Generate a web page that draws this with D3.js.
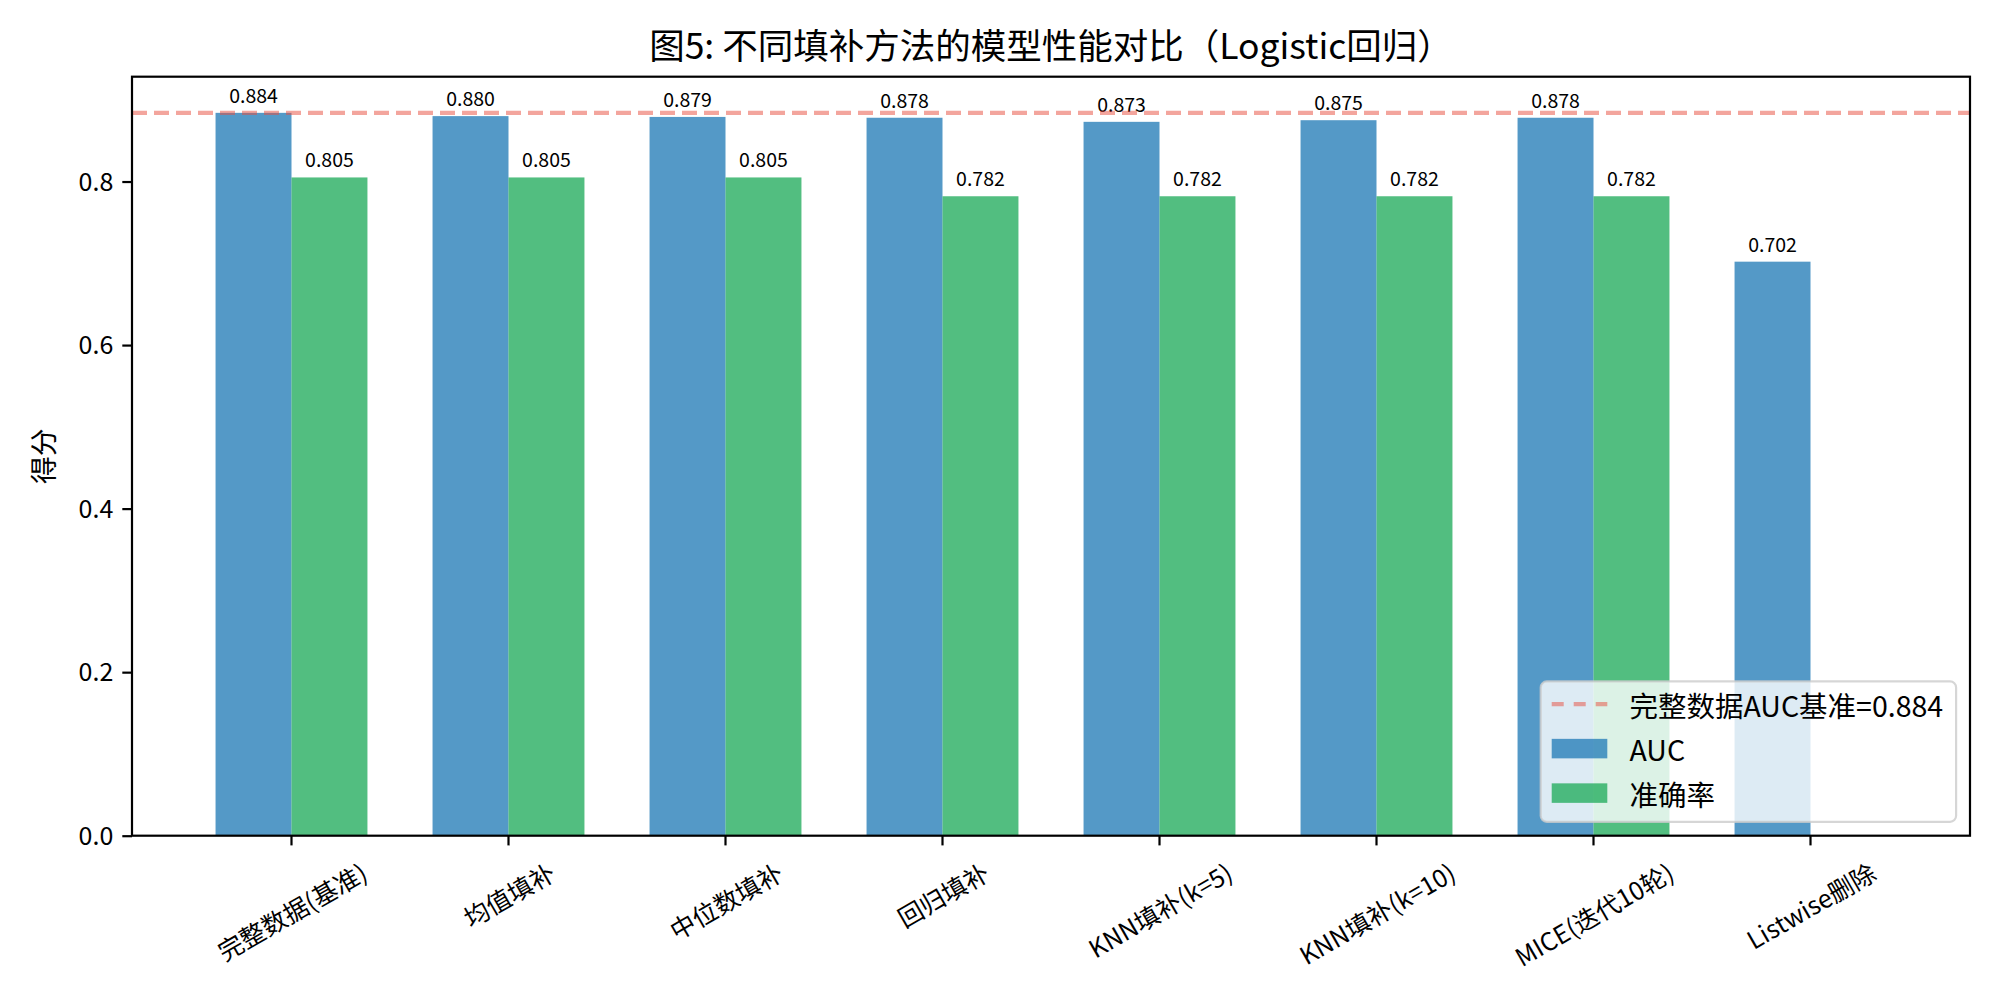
<!DOCTYPE html>
<html>
<head>
<meta charset="utf-8">
<script src="https://cdn.jsdelivr.net/npm/d3@7"></script>
<style>
  body { margin: 0; background: #fff; }
  text { font-family: "Noto Sans CJK SC", "Noto Sans", sans-serif; fill: #000; }
</style>
</head>
<body>
<div id="chart"></div>
<script>
// chart data
const methods = ["完整数据(基准)", "均值填补", "中位数填补", "回归填补", "KNN填补(k=5)", "KNN填补(k=10)", "MICE(迭代10轮)", "Listwise删除"];
const aucValues = [0.884, 0.880, 0.879, 0.878, 0.873, 0.875, 0.878, 0.702];
const accValues = [0.805, 0.805, 0.805, 0.782, 0.782, 0.782, 0.782, null];
const baselineAuc = 0.884;
const yTicks = [0.0, 0.2, 0.4, 0.6, 0.8];
const seriesNames = ["AUC", "准确率"];
const legendLine = "完整数据AUC基准=0.884";

const width = 2000, height = 1000;
const margin = {left: 132, right: 30, top: 76.7, bottom: 164.3};
const barW = 0.35;

const svg = d3.select("#chart").append("svg")
    .attr("width", width).attr("height", height)
    .attr("viewBox", `0 0 ${width} ${height}`);

// x domain the way matplotlib pads bars: 5% on each side
const lo = -barW, hi = methods.length - 1 + barW;
const pad = 0.05 * (hi - lo);
const x = d3.scaleLinear().domain([lo - pad, hi + pad]).range([margin.left, width - margin.right]);
const y = d3.scaleLinear().domain([0, d3.max(aucValues) * 1.05]).range([height - margin.bottom, margin.top]);

const blue = "#2980b9", green = "#27ae60";

// bars
const g = svg.append("g");
g.selectAll("rect.auc").data(aucValues).join("rect")
    .attr("class", "auc")
    .attr("x", (d, i) => x(i - barW))
    .attr("width", (d, i) => x(i) - x(i - barW))
    .attr("y", d => y(d))
    .attr("height", d => y(0) - y(d))
    .attr("fill", blue).attr("fill-opacity", 0.8);

const accData = accValues.map((v, i) => ({v, i})).filter(d => d.v != null);
g.selectAll("rect.acc").data(accData).join("rect")
    .attr("class", "acc")
    .attr("x", d => x(d.i))
    .attr("width", d => x(d.i + barW) - x(d.i))
    .attr("y", d => y(d.v))
    .attr("height", d => y(0) - y(d.v))
    .attr("fill", green).attr("fill-opacity", 0.8);

// value labels
g.selectAll("text.auclab").data(aucValues).join("text")
    .attr("x", (d, i) => x(i - barW / 2))
    .attr("y", d => y(d) - 10)
    .attr("text-anchor", "middle")
    .attr("font-size", 19.5)
    .text(d => d.toFixed(3));
g.selectAll("text.acclab").data(accData).join("text")
    .attr("x", d => x(d.i + barW / 2))
    .attr("y", d => y(d.v) - 10)
    .attr("text-anchor", "middle")
    .attr("font-size", 19.5)
    .text(d => d.v.toFixed(3));

// baseline dashed line
svg.append("line")
    .attr("x1", x.range()[0]).attr("x2", x.range()[1])
    .attr("y1", y(baselineAuc)).attr("y2", y(baselineAuc))
    .attr("stroke", "#e74c3c").attr("stroke-opacity", 0.5)
    .attr("stroke-width", 4.2).attr("stroke-dasharray", "15 7");

// axes frame
const x0 = x.range()[0], x1 = x.range()[1], yb = y(0), yt = y.range()[1];
svg.append("rect")
    .attr("x", x0).attr("y", yt).attr("width", x1 - x0).attr("height", yb - yt)
    .attr("fill", "none").attr("stroke", "#000").attr("stroke-width", 2.2);

// y ticks
const yAxis = svg.append("g").attr("transform", `translate(${x0},0)`)
    .call(d3.axisLeft(y).tickValues(yTicks).tickFormat(d3.format(".1f")).tickSize(9.7).tickPadding(9))
    .call(s => s.select(".domain").remove());
yAxis.selectAll("line").attr("stroke-width", 2.2);
yAxis.selectAll("text").attr("font-size", 25).attr("font-family", null).attr("dy", "0.35em");

// x ticks
const xg = svg.append("g");
xg.selectAll("line").data(methods).join("line")
    .attr("x1", (d, i) => x(i)).attr("x2", (d, i) => x(i))
    .attr("y1", yb).attr("y2", yb + 9.7)
    .attr("stroke", "#000").attr("stroke-width", 2.2);
const xFont = 25;
const cos30 = Math.cos(Math.PI / 6), sin30 = 0.5;
xg.selectAll("text").data(methods).join("text")
    .attr("font-size", xFont)
    .attr("text-anchor", "middle")
    .attr("dominant-baseline", "central")
    .text(d => d)
    .each(function(d, i) {
        const L = this.getComputedTextLength();
        const h = xFont * 0.95;
        const cy = yb + 23 + (L * sin30 + h * cos30) / 2;
        d3.select(this).attr("transform", `translate(${x(i)},${cy}) rotate(-30)`);
    });

// y label
svg.append("text")
    .attr("transform", `translate(42,${(yt + yb) / 2}) rotate(-90)`)
    .attr("text-anchor", "middle").attr("dominant-baseline", "central")
    .attr("font-size", 27.8)
    .text("得分");

// title
svg.append("text")
    .attr("x", (x0 + x1) / 2).attr("y", 59)
    .attr("text-anchor", "middle")
    .attr("font-size", 35.5)
    .text("图5: 不同填补方法的模型性能对比（Logistic回归）");

// legend, lower right
const lf = 28.5;
const leg = svg.append("g");
const items = [
    {type: "line", label: legendLine},
    {type: "patch", label: seriesNames[0], color: blue},
    {type: "patch", label: seriesNames[1], color: green}
];
const box = leg.append("rect");
const texts = leg.selectAll("text").data(items).join("text")
    .attr("font-size", lf)
    .attr("dominant-baseline", "central")
    .text(d => d.label);
let maxW = 0;
texts.each(function() { maxW = Math.max(maxW, this.getComputedTextLength()); });
const boxW = 11 + 55.6 + 22.2 + maxW + 13;
const boxH = 140.4;
const bx = x1 - 13.9 - boxW, by = yb - 13.9 - boxH;
box.attr("x", bx).attr("y", by).attr("width", boxW).attr("height", boxH)
    .attr("rx", 6)
    .attr("fill", "#fff").attr("fill-opacity", 0.8)
    .attr("stroke", "#cccccc").attr("stroke-opacity", 0.8).attr("stroke-width", 2.2);
const rowY = i => by + 22.7 + i * 44.5;
texts.attr("x", bx + 11 + 55.6 + 22.2).attr("y", (d, i) => rowY(i));
items.forEach((d, i) => {
    if (d.type === "line") {
        leg.append("line")
            .attr("x1", bx + 11).attr("x2", bx + 11 + 55.6)
            .attr("y1", rowY(i)).attr("y2", rowY(i))
            .attr("stroke", "#e74c3c").attr("stroke-opacity", 0.5)
            .attr("stroke-width", 4.2).attr("stroke-dasharray", "12 10");
    } else {
        leg.append("rect")
            .attr("x", bx + 11).attr("y", rowY(i) - 9.75)
            .attr("width", 55.6).attr("height", 19.5)
            .attr("fill", d.color).attr("fill-opacity", 0.8);
    }
});
</script>
</body>
</html>
